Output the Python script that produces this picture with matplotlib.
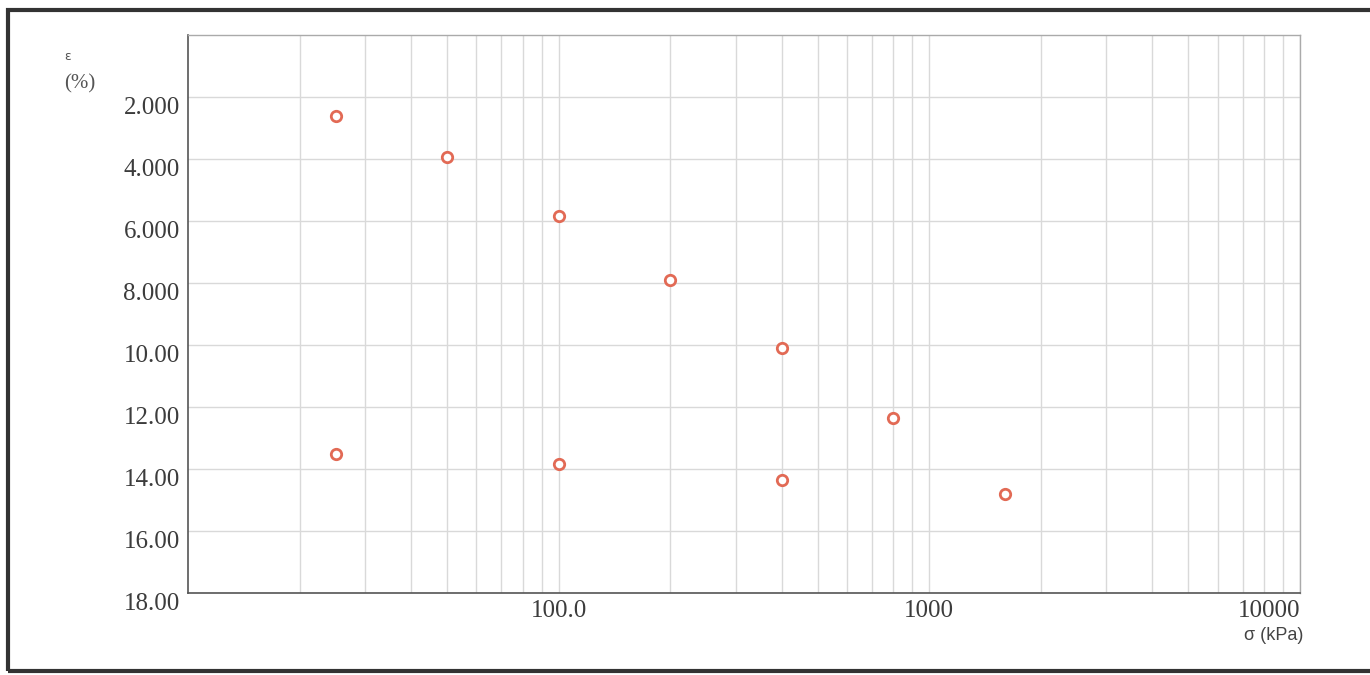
import matplotlib
matplotlib.use("Agg")
from matplotlib import pyplot as plt
from matplotlib.ticker import LogLocator, FixedLocator, NullFormatter
from matplotlib.patches import Rectangle

# oedometer test: loading then unloading
stress = [25, 50, 100, 200, 400, 800, 1600, 400, 100, 25]
strain = [2.6, 3.95, 5.85, 7.9, 10.1, 12.35, 14.8, 14.35, 13.85, 13.5]

y_ticks = [2, 4, 6, 8, 10, 12, 14, 16, 18]
y_labels = ['2.000', '4.000', '6.000', '8.000', '10.00', '12.00', '14.00', '16.00', '18.00']
x_ticks = [100, 1000, 10000]
x_labels = ['100.0', '1000', '10000']

fig = plt.figure(figsize=(13.7, 6.75), dpi=100)
ax = fig.add_axes([188 / 1370, 82 / 675, 1112 / 1370, 558 / 675])

ax.plot(stress, strain, marker='o', linestyle='None', markersize=7.5,
        markerfacecolor='white', markeredgecolor='#e26a55', markeredgewidth=2)

ax.set_xscale('log')
ax.set_xlim(10, 10000)
ax.set_ylim(18, 0)

ax.xaxis.set_major_locator(FixedLocator(x_ticks))
ax.set_xticklabels(x_labels)
ax.xaxis.set_minor_locator(LogLocator(base=10, subs=range(2, 10)))
ax.xaxis.set_minor_formatter(NullFormatter())
ax.set_yticks(y_ticks)
ax.set_yticklabels(y_labels)

ax.grid(True, which='both', axis='x', color='#d9d9d9', lw=1)
ax.grid(True, which='major', axis='y', color='#d9d9d9', lw=1)
ax.set_axisbelow(True)

ax.tick_params(which='both', length=0)
ax.tick_params(axis='x', pad=5)
ax.tick_params(axis='y', pad=6)
for lab in ax.get_xticklabels() + ax.get_yticklabels():
    lab.set_family('Liberation Serif')
    lab.set_fontsize(18)
    lab.set_color('#3c3c3c')
for lab in ax.get_yticklabels():
    lab.set_va('top')
ax.get_xticklabels()[-1].set_ha('right')

for s in ['left', 'bottom']:
    ax.spines[s].set_color('#555555')
    ax.spines[s].set_linewidth(1.2)
for s in ['top', 'right']:
    ax.spines[s].set_color('#aaaaaa')
    ax.spines[s].set_linewidth(1)

fig.text(68 / 1370, 1 - 56 / 675, '\u03b5', fontsize=9, color='#555555',
         ha='center', va='center')
fig.text(80 / 1370, 1 - 84 / 675, '(%)', fontsize=15, color='#555555',
         family='Liberation Serif', ha='center', va='center')
fig.text(1303 / 1370, 1 - 636 / 675, '\u03c3 (kPa)', fontsize=13, color='#444444',
         family='Liberation Sans', ha='right', va='center')

# outer frame of the scanned page
fig.patches.append(Rectangle((8 / 1370, 4 / 675), 1.2, 1 - 14 / 675, transform=fig.transFigure,
                             fill=False, edgecolor='#333333', linewidth=3))

fig.savefig('out.png', dpi=100)
